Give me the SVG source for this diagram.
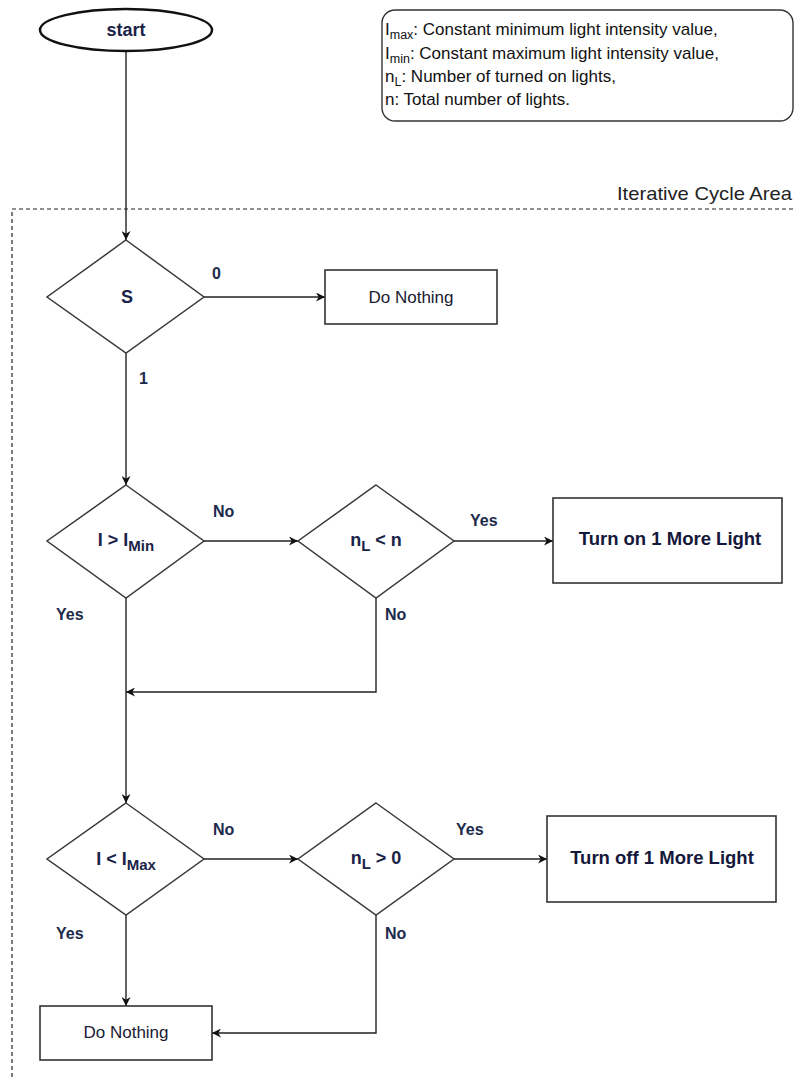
<svg xmlns="http://www.w3.org/2000/svg" width="795" height="1077" viewBox="0 0 795 1077">
  <style>
    .shape { fill: #ffffff; stroke: #3a3a3a; stroke-width: 1.5; }
    .box { fill: #ffffff; stroke: #333333; stroke-width: 1.6; }
    .edge { fill: none; stroke: #222222; stroke-width: 1.4; }
    .lbl { font-family: "Liberation Sans", Arial, sans-serif; font-weight: bold; font-size: 16px; fill: #1c2a4c; }
    .node { font-family: "Liberation Sans", Arial, sans-serif; font-weight: bold; font-size: 18px; fill: #1a2348; text-anchor: middle; }
    .big { font-family: "Liberation Sans", Arial, sans-serif; font-weight: bold; font-size: 18.5px; fill: #15183a; text-anchor: middle; }
    .plain { font-family: "Liberation Sans", Arial, sans-serif; font-size: 17px; fill: #1a1a30; text-anchor: middle; }
    .legend { font-family: "Liberation Sans", Arial, sans-serif; font-size: 17px; fill: #111111; }
  </style>
  <defs>
    <marker id="arrow" viewBox="0 0 10 10" refX="10" refY="5" markerWidth="9" markerHeight="9" markerUnits="userSpaceOnUse" orient="auto">
      <path d="M0,0 L10,5 L0,10 L3,5 z" fill="#111111"/>
    </marker>
  </defs>

  <!-- iterative cycle boundary -->
  <g id="cycle-area">
    <path d="M12,1077 V209 H795" fill="none" stroke="#222222" stroke-width="1.2" stroke-dasharray="4,3"/>
    <text x="792" y="200" font-family="Liberation Sans, Arial, sans-serif" font-size="19" fill="#222222" text-anchor="end" textLength="175" lengthAdjust="spacingAndGlyphs">Iterative Cycle Area</text>
  </g>

  <!-- connectors -->
  <g id="connectors">
    <path class="edge" d="M126,52 V240" marker-end="url(#arrow)"/>
    <path class="edge" d="M204,297 H325" marker-end="url(#arrow)"/>
    <path class="edge" d="M126,353 V485" marker-end="url(#arrow)"/>
    <path class="edge" d="M204,541 H298" marker-end="url(#arrow)"/>
    <path class="edge" d="M454,541 H553" marker-end="url(#arrow)"/>
    <path class="edge" d="M376,598 V692 H126" marker-end="url(#arrow)"/>
    <path class="edge" d="M126,598 V803" marker-end="url(#arrow)"/>
    <path class="edge" d="M204,859 H298" marker-end="url(#arrow)"/>
    <path class="edge" d="M454,859 H547" marker-end="url(#arrow)"/>
    <path class="edge" d="M126,915 V1006" marker-end="url(#arrow)"/>
    <path class="edge" d="M376,915 V1033 H212" marker-end="url(#arrow)"/>
    <text class="lbl" x="212" y="279">0</text>
    <text class="lbl" x="139" y="384">1</text>
    <text class="lbl" x="213" y="517">No</text>
    <text class="lbl" x="470" y="526">Yes</text>
    <text class="lbl" x="56" y="620">Yes</text>
    <text class="lbl" x="385" y="620">No</text>
    <text class="lbl" x="213" y="835">No</text>
    <text class="lbl" x="456" y="835">Yes</text>
    <text class="lbl" x="56" y="939">Yes</text>
    <text class="lbl" x="385" y="939">No</text>
  </g>

  <g id="start">
    <ellipse cx="126" cy="30" rx="86" ry="21" fill="#ffffff" stroke="#111111" stroke-width="2.5"/>
    <text class="node" x="126" y="36">start</text>
  </g>

  <g id="legend">
    <rect x="382" y="10" width="411" height="111" rx="13" fill="#ffffff" stroke="#333333" stroke-width="1.4"/>
    <text class="legend" x="385" y="35">I<tspan dy="4" font-size="12.5">max</tspan><tspan dy="-4">: Constant minimum light intensity value,</tspan></text>
    <text class="legend" x="385" y="59">I<tspan dy="4" font-size="12.5">min</tspan><tspan dy="-4">: Constant maximum light intensity value,</tspan></text>
    <text class="legend" x="385" y="82">n<tspan dy="4" font-size="12.5">L</tspan><tspan dy="-4">: Number of turned on lights,</tspan></text>
    <text class="legend" x="385" y="105">n: Total number of lights.</text>
  </g>

  <g id="decision-s">
    <polygon class="shape" points="126,240 204,297 126,353 47,297"/>
    <text class="node" x="127" y="303">S</text>
  </g>

  <g id="do-nothing-1">
    <rect class="box" x="325" y="270" width="172" height="54"/>
    <text class="plain" x="411" y="303">Do Nothing</text>
  </g>

  <g id="decision-min">
    <polygon class="shape" points="126,485 204,541 126,598 47,541"/>
    <text class="node" x="126" y="546">I &gt; I<tspan dy="5" font-size="15">Min</tspan></text>
  </g>

  <g id="decision-nl-lt-n">
    <polygon class="shape" points="376,485 454,541 376,598 298,541"/>
    <text class="node" x="376" y="546">n<tspan dy="5" font-size="15">L</tspan><tspan dy="-5"> &lt; n</tspan></text>
  </g>

  <g id="turn-on">
    <rect class="box" x="553" y="498" width="229" height="85"/>
    <text class="big" x="670" y="545">Turn on 1 More Light</text>
  </g>

  <g id="decision-max">
    <polygon class="shape" points="126,803 204,859 126,915 47,859"/>
    <text class="node" x="126" y="865">I &lt; I<tspan dy="5" font-size="15">Max</tspan></text>
  </g>

  <g id="decision-nl-gt-0">
    <polygon class="shape" points="376,803 454,859 376,915 298,859"/>
    <text class="node" x="376" y="864">n<tspan dy="5" font-size="15">L</tspan><tspan dy="-5"> &gt; 0</tspan></text>
  </g>

  <g id="turn-off">
    <rect class="box" x="547" y="816" width="229" height="86"/>
    <text class="big" x="662" y="864">Turn off 1 More Light</text>
  </g>

  <g id="do-nothing-2">
    <rect class="box" x="40" y="1006" width="172" height="54"/>
    <text class="plain" x="126" y="1038">Do Nothing</text>
  </g>
</svg>
